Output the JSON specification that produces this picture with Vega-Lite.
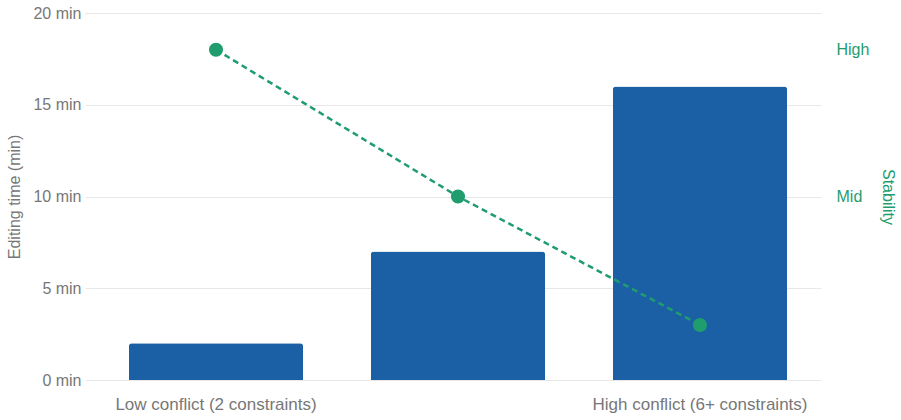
{
  "$schema": "https://vega.github.io/schema/vega-lite/v6.json",
  "width": 726,
  "height": 367,
  "autosize": {"type": "none"},
  "padding": {"left": 95, "top": 13, "right": 80, "bottom": 40},
  "config": {
    "font": "Liberation Sans",
    "view": {"stroke": null}
  },
  "data": {
    "values": [
      {"conflict": "Low conflict (2 constraints)", "time": 2, "stability": 18},
      {"conflict": "Medium conflict (4 constraints)", "time": 7, "stability": 10},
      {"conflict": "High conflict (6+ constraints)", "time": 16, "stability": 3}
    ]
  },
  "encoding": {
    "x": {
      "field": "conflict",
      "type": "nominal",
      "sort": null,
      "scale": {"paddingInner": 0.28, "paddingOuter": 0.14},
      "axis": {
        "title": null,
        "labelAngle": 0,
        "labelFontSize": 17,
        "labelLimit": 400,
        "labelColor": "#777777",
        "labelPadding": 16,
        "domain": false,
        "ticks": false,
        "grid": false,
        "labelExpr": "indexof(datum.label, 'Medium') >= 0 ? '' : datum.label"
      }
    }
  },
  "layer": [
    {
      "mark": {"type": "bar", "color": "#1b5fa5", "cornerRadiusTopLeft": 3, "cornerRadiusTopRight": 3},
      "encoding": {
        "y": {
          "field": "time",
          "type": "quantitative",
          "scale": {"domain": [0, 20]},
          "axis": {
            "title": "Editing time (min)",
            "titleColor": "#777777",
            "titleFontSize": 16,
            "titleFontWeight": "normal",
            "titleX": -73,
            "labelColor": "#777777",
            "labelFontSize": 16,
            "labelPadding": 4,
            "values": [0, 5, 10, 15, 20],
            "labelExpr": "datum.value + ' min'",
            "domain": false,
            "tickSize": 10,
            "tickColor": "#e8e8e8",
            "gridColor": "#e8e8e8",
            "grid": true
          }
        }
      }
    },
    {
      "mark": {"type": "line", "color": "#1f9d6f", "strokeDash": [6, 4], "strokeWidth": 2.5},
      "encoding": {
        "y": {
          "field": "stability",
          "type": "quantitative",
          "scale": {"domain": [0, 20]},
          "axis": {
            "orient": "right",
            "title": "Stability",
            "titleColor": "#1f9d6f",
            "titleFontSize": 16,
            "titleFontWeight": "normal",
            "titleX": 58,
            "labelColor": "#1f9d6f",
            "labelFontSize": 16,
            "labelPadding": 15,
            "values": [10, 18],
            "labelExpr": "datum.value == 18 ? 'High' : 'Mid'",
            "domain": false,
            "ticks": false,
            "grid": false
          }
        }
      }
    },
    {
      "mark": {"type": "point", "filled": true, "color": "#1f9d6f", "size": 200, "opacity": 1},
      "encoding": {
        "y": {"field": "stability", "type": "quantitative", "scale": {"domain": [0, 20]}, "axis": null}
      }
    }
  ],
  "resolve": {"scale": {"y": "independent"}}
}
